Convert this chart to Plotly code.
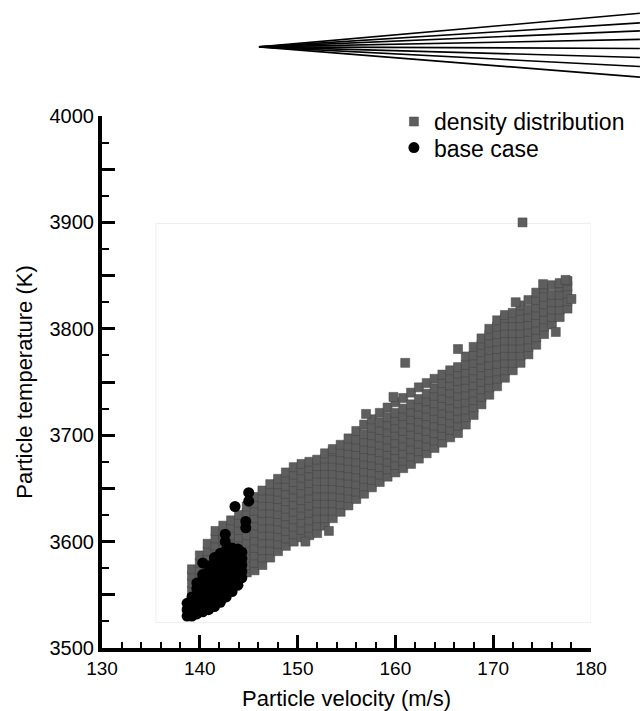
import plotly.graph_objects as go

# ---- density distribution (grey squares): columns of velocity -> temperatures ----
density_vel = [139.2, 140.0, 140.8, 141.6, 142.4, 143.2, 144.0, 144.8, 145.6, 146.4,
               147.2, 148.0, 148.8, 149.6, 150.4, 151.2, 152.0, 152.8, 153.6, 154.4,
               155.2, 156.0, 156.8, 157.6, 158.4, 159.2, 160.0, 160.8, 161.6, 162.4,
               163.2, 164.0, 164.8, 165.6, 166.4, 167.2, 168.0, 168.8, 169.6, 170.4,
               171.2, 172.0, 172.8, 173.6, 174.4, 175.2, 176.0, 176.8, 177.6]
density_temp = [
    [3540, 3547, 3554, 3561, 3568, 3574],
    [3545, 3552, 3559, 3566, 3573, 3580, 3587],
    [3549, 3556, 3563, 3570, 3577, 3584, 3591, 3598],
    [3554, 3561, 3568, 3575, 3582, 3589, 3596, 3603, 3610],
    [3559, 3566, 3573, 3580, 3587, 3594, 3601, 3608, 3615],
    [3564, 3571, 3578, 3585, 3592, 3599, 3606, 3613, 3620],
    [3569, 3576, 3583, 3590, 3597, 3604, 3611, 3618, 3625],
    [3571, 3578, 3585, 3592, 3599, 3606, 3613, 3620, 3627, 3633],
    [3573, 3580, 3587, 3594, 3601, 3608, 3615, 3622, 3629, 3636, 3642],
    [3578, 3585, 3592, 3599, 3606, 3613, 3620, 3627, 3634, 3641, 3648],
    [3585, 3592, 3599, 3606, 3613, 3620, 3627, 3634, 3641, 3648, 3654],
    [3591, 3598, 3605, 3612, 3619, 3626, 3633, 3640, 3647, 3654, 3659],
    [3596, 3603, 3610, 3617, 3624, 3631, 3638, 3645, 3652, 3659, 3665],
    [3600, 3607, 3614, 3621, 3628, 3635, 3642, 3649, 3656, 3663, 3670],
    [3604, 3611, 3618, 3625, 3632, 3639, 3646, 3653, 3660, 3667, 3673],
    [3606, 3613, 3620, 3627, 3634, 3641, 3648, 3655, 3662, 3669, 3675],
    [3608, 3615, 3622, 3629, 3636, 3643, 3650, 3657, 3664, 3671, 3677],
    [3615, 3622, 3629, 3636, 3643, 3650, 3657, 3664, 3671, 3678, 3683],
    [3622, 3629, 3636, 3643, 3650, 3657, 3664, 3671, 3678, 3685, 3687],
    [3628, 3635, 3642, 3649, 3656, 3663, 3670, 3677, 3684, 3691],
    [3634, 3641, 3648, 3655, 3662, 3669, 3676, 3683, 3690, 3697],
    [3640, 3647, 3654, 3661, 3668, 3675, 3682, 3689, 3696, 3704],
    [3645, 3652, 3659, 3666, 3673, 3680, 3687, 3694, 3701, 3710],
    [3651, 3658, 3665, 3672, 3679, 3686, 3693, 3700, 3707, 3715],
    [3656, 3663, 3670, 3677, 3684, 3691, 3698, 3705, 3712, 3721],
    [3661, 3668, 3675, 3682, 3689, 3696, 3703, 3710, 3717, 3726],
    [3665, 3672, 3679, 3686, 3693, 3700, 3707, 3714, 3721, 3731],
    [3669, 3676, 3683, 3690, 3697, 3704, 3711, 3718, 3725, 3735],
    [3673, 3680, 3687, 3694, 3701, 3708, 3715, 3722, 3729, 3740],
    [3678, 3685, 3692, 3699, 3706, 3713, 3720, 3727, 3734, 3745],
    [3683, 3690, 3697, 3704, 3711, 3718, 3725, 3732, 3739, 3749],
    [3688, 3695, 3702, 3709, 3716, 3723, 3730, 3737, 3744, 3753],
    [3693, 3700, 3707, 3714, 3721, 3728, 3735, 3742, 3749, 3757],
    [3698, 3705, 3712, 3719, 3726, 3733, 3740, 3747, 3754, 3761],
    [3702, 3709, 3716, 3723, 3730, 3737, 3744, 3751, 3758, 3764],
    [3710, 3717, 3724, 3731, 3738, 3745, 3752, 3759, 3766, 3774],
    [3719, 3726, 3733, 3740, 3747, 3754, 3761, 3768, 3775, 3783],
    [3729, 3736, 3743, 3750, 3757, 3764, 3771, 3778, 3785, 3791],
    [3738, 3745, 3752, 3759, 3766, 3773, 3780, 3787, 3794, 3800],
    [3746, 3753, 3760, 3767, 3774, 3781, 3788, 3795, 3802, 3808],
    [3754, 3761, 3768, 3775, 3782, 3789, 3796, 3803, 3810, 3813],
    [3761, 3768, 3775, 3782, 3789, 3796, 3803, 3810, 3815],
    [3768, 3775, 3782, 3789, 3796, 3803, 3810, 3817, 3822],
    [3776, 3783, 3790, 3797, 3804, 3811, 3818, 3827],
    [3785, 3792, 3799, 3806, 3813, 3820, 3827, 3834],
    [3795, 3802, 3809, 3816, 3823, 3830, 3838],
    [3804, 3811, 3818, 3825, 3832, 3841],
    [3811, 3818, 3825, 3832, 3839, 3843],
    [3819, 3826, 3833, 3840, 3845],
]
density_extra_vel = [161.0, 166.4, 172.3, 173.0, 176.4, 177.4, 175.1, 178.0, 157.0, 153.2, 150.8, 159.8]
density_extra_temp = [3768, 3781, 3825, 3900, 3797, 3846, 3842, 3828, 3720, 3610, 3600, 3736]

# ---- base case (black circles) ----
base_vel = [138.7, 139.2, 139.7, 140.3, 140.9, 141.5, 142.1, 142.7, 143.3, 143.9, 144.3]
base_temp = [
    [3530, 3536, 3542],
    [3530, 3536, 3542, 3548],
    [3532, 3538, 3544, 3550, 3556, 3561],
    [3534, 3540, 3546, 3552, 3558, 3564, 3569],
    [3536, 3542, 3548, 3554, 3560, 3566, 3572, 3577],
    [3539, 3545, 3551, 3557, 3563, 3569, 3575, 3581, 3585],
    [3543, 3549, 3555, 3561, 3567, 3573, 3579, 3585, 3589],
    [3548, 3554, 3560, 3566, 3572, 3578, 3584, 3590, 3592],
    [3553, 3559, 3565, 3571, 3577, 3583, 3589, 3594],
    [3559, 3565, 3571, 3577, 3583, 3589, 3593],
    [3566, 3572, 3578, 3584, 3590],
]
base_extra_vel = [140.3, 142.6, 142.6, 143.6, 144.7, 144.7, 145.0, 145.0]
base_extra_temp = [3580, 3607, 3600, 3633, 3619, 3613, 3646, 3638]

# ---- axes ----
x_tick_vals = [130, 140, 150, 160, 170, 180]
y_tick_vals = [3500, 3550, 3600, 3650, 3700, 3750, 3800, 3850, 3900, 3950, 4000]
y_tick_text = ["3500", "", "3600", "", "3700", "", "3800", "", "3900", "", "4000"]

# decorative fan of lines above the plot (paper coordinates)
fan_tip = (0.321, 1.130)
fan_end_x = 1.10
fan_end_y = [1.193, 1.175, 1.160, 1.144, 1.127, 1.110, 1.093, 1.073]

dx, dy = [], []
for v, temps in zip(density_vel, density_temp):
    for t in temps:
        dx.append(v)
        dy.append(t)
dx += density_extra_vel
dy += density_extra_temp

bx, by = [], []
for v, temps in zip(base_vel, base_temp):
    for t in temps:
        bx.append(v)
        by.append(t)
bx += base_extra_vel
by += base_extra_temp

fig = go.Figure()
fig.add_trace(go.Scatter(
    x=dx, y=dy, mode="markers", name="density distribution", legend="legend",
    marker=dict(symbol="square", size=9, color="#5e5e5e",
                line=dict(color="#444444", width=0.5)),
))
fig.add_trace(go.Scatter(
    x=bx, y=by, mode="markers", name="base case", legend="legend2",
    marker=dict(symbol="circle", size=11, color="black", line=dict(width=0)),
))

shapes = [dict(type="rect", xref="x", yref="y", x0=135.5, x1=180, y0=3524, y1=3899,
               line=dict(color="#eeeeee", width=1), layer="below")]
for ey in fan_end_y:
    shapes.append(dict(type="line", xref="paper", yref="paper",
                       x0=fan_tip[0], y0=fan_tip[1], x1=fan_end_x, y1=ey,
                       line=dict(color="black", width=1.6)))

font_family = "Arial, Liberation Sans, Helvetica, sans-serif"
legend_style = dict(xanchor="left", yanchor="top",
                    font=dict(size=23, family=font_family, color="black"),
                    bgcolor="rgba(0,0,0,0)", itemsizing="trace")
fig.update_layout(
    width=642, height=711,
    margin=dict(l=102, r=49, t=116, b=63),
    paper_bgcolor="white", plot_bgcolor="white",
    font=dict(family=font_family, color="black"),
    showlegend=True,
    legend=dict(x=0.597, y=1.030, **legend_style),
    legend2=dict(x=0.597, y=0.981, **legend_style),
    shapes=shapes,
    xaxis=dict(range=[130, 180], tickvals=x_tick_vals, ticks="inside", ticklen=13,
               tickwidth=3, tickcolor="black", showline=True, linewidth=4,
               linecolor="black", showgrid=False, zeroline=False, automargin=False,
               tickfont=dict(size=19),
               minor=dict(dtick=2, ticks="inside", ticklen=6, tickwidth=1.5,
                          tickcolor="black", showgrid=False),
               title=dict(text="Particle velocity (m/s)", font=dict(size=22), standoff=14)),
    yaxis=dict(range=[3500, 4000], tickvals=y_tick_vals, ticktext=y_tick_text,
               ticks="inside", ticklen=13, tickwidth=3, tickcolor="black",
               showline=True, linewidth=4, linecolor="black", showgrid=False,
               zeroline=False, automargin=False, tickfont=dict(size=20),
               minor=dict(dtick=25, ticks="inside", ticklen=7, tickwidth=1.5,
                          tickcolor="black", showgrid=False),
               title=dict(text="Particle temperature (K)", font=dict(size=22), standoff=12)),
)

fig.write_html("out.html")
